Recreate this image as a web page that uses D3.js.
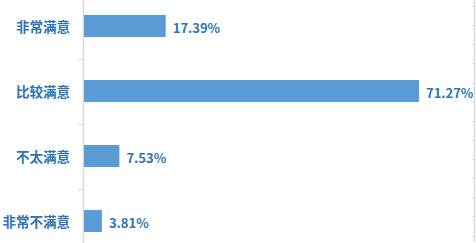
<!DOCTYPE html>
<html>
<head>
<meta charset="utf-8">
<script src="https://cdn.jsdelivr.net/npm/d3@7"></script>
<style>
  body { margin: 0; background: #fff; }
  svg { display: block; }
  text { font-family: "Microsoft YaHei", "Noto Sans CJK SC", "Noto Sans", sans-serif; font-weight: bold; }
</style>
</head>
<body>
<svg width="476" height="243"></svg>
<script>
var categories = ["非常满意", "比较满意", "不太满意", "非常不满意"];
var values = [17.39, 71.27, 7.53, 3.81];
var rightTicks = d3.range(0, 13);   // small tick marks on the cut-off axis at the right edge

var svg = d3.select("svg");
var width = 476, height = 243;
var barColor = "#5b9bd5";
var textColor = "#2e75b6";
var axisColor = "#d9d9d9";

// band scale: each category gets 65px, chart is cropped top and bottom
var y = d3.scaleBand()
    .domain(categories)
    .range([-6.5, 253.5])
    .padding(0);

var x = d3.scaleLinear()
    .domain([0, 100])
    .range([84, 554]);

var barH = 22;

// category axis line + ticks on band boundaries
svg.append("line")
    .attr("x1", 83.5).attr("x2", 83.5)
    .attr("y1", 0).attr("y2", height)
    .attr("stroke", axisColor).attr("stroke-width", 1.5);

svg.selectAll(".tick")
    .data(categories.slice(1))
    .enter()
    .append("line")
    .attr("class", "tick")
    .attr("x1", 78).attr("x2", 83)
    .attr("y1", d => Math.round(y(d)) + 0.5)
    .attr("y2", d => Math.round(y(d)) + 0.5)
    .attr("stroke", axisColor);

// category labels
svg.selectAll(".cat")
    .data(categories)
    .enter()
    .append("text")
    .attr("class", "cat")
    .attr("x", 70)
    .attr("y", d => y(d) + y.bandwidth() / 2)
    .attr("text-anchor", "end")
    .attr("dominant-baseline", "central")
    .attr("font-size", "13.5px")
    .attr("fill", textColor)
    .text(d => d);

// bars
svg.selectAll(".bar")
    .data(values)
    .enter()
    .append("rect")
    .attr("class", "bar")
    .attr("x", x(0))
    .attr("y", (d, i) => y(categories[i]) + (y.bandwidth() - barH) / 2)
    .attr("width", d => x(d) - x(0))
    .attr("height", barH)
    .attr("fill", barColor);

// value labels
svg.selectAll(".val")
    .data(values)
    .enter()
    .append("text")
    .attr("class", "val")
    .attr("x", d => x(d) + 7)
    .attr("y", (d, i) => y(categories[i]) + y.bandwidth() / 2 + 1)
    .attr("dominant-baseline", "central")
    .attr("font-size", "13px")
    .attr("fill", textColor)
    .text(d => d.toFixed(2) + "%");

// edge of a neighbouring axis at the right
var r = d3.scaleLinear().domain([0, 12]).range([6, 235.5]);
svg.append("line")
    .attr("x1", 474.5).attr("x2", 474.5)
    .attr("y1", 0).attr("y2", 242)
    .attr("stroke", axisColor).attr("stroke-width", 1.5);
svg.selectAll(".rtick")
    .data(rightTicks)
    .enter()
    .append("line")
    .attr("class", "rtick")
    .attr("x1", 472.5).attr("x2", 474)
    .attr("y1", d => Math.round(r(d)) + 0.5)
    .attr("y2", d => Math.round(r(d)) + 0.5)
    .attr("stroke", axisColor);
</script>
</body>
</html>
